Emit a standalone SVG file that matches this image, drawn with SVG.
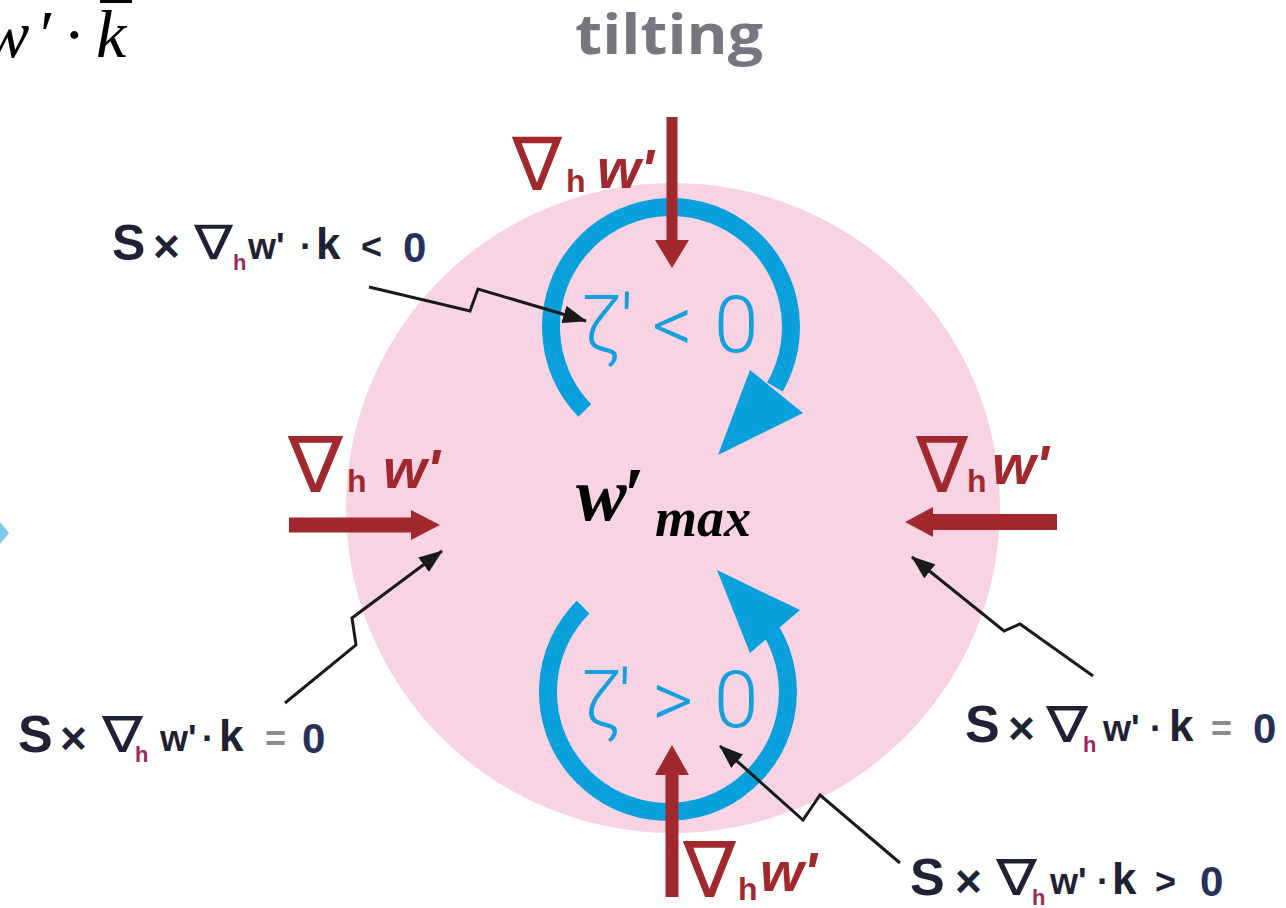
<svg xmlns="http://www.w3.org/2000/svg" width="1286" height="908" viewBox="0 0 1286 908">
<style>
.red{fill:#a1282c}
.redtxt{fill:#a1282c}
.nab{font-family:"DejaVu Sans",sans-serif;font-weight:normal}
.sb{font-family:"Liberation Sans",Arial,sans-serif;font-weight:bold}
.dk{fill:#1f2235}
.hs{fill:#9e2a5c}
.eq{fill:#8c8c8c}
.zr{fill:#27305a}
.blue{fill:#14a0dc;font-family:Roboto,"Liberation Sans",sans-serif;font-weight:300}
.ptr{fill:none;stroke:#1a1a1a;stroke-width:3;stroke-linejoin:miter;marker-end:url(#ah)}
.arc{fill:none;stroke:#0aa0dc;stroke-width:18}
</style>
<defs>
<marker id="ah" viewBox="0 0 24 18" markerWidth="24" markerHeight="18" refX="23" refY="9" orient="auto" markerUnits="userSpaceOnUse">
<path d="M0,0 L24,9 L0,18 z" fill="#1a1a1a"/>
</marker>
</defs>
<rect width="1286" height="908" fill="#ffffff"/>

<g id="formula-fragment" font-family="'Liberation Serif',serif" font-style="italic" font-size="68" fill="#000">
<text x="-16" y="57">w</text>
<text x="40" y="57" font-style="normal">′</text>
<text x="63" y="57" font-style="normal">·</text>
<text x="96" y="57">k</text>
<line x1="100" y1="1.5" x2="132" y2="1.5" stroke="#000" stroke-width="3"/>
</g>

<polygon id="edge-tip" points="0,522 9,533 0,544" fill="#7fcbee"/>

<g id="title">
<text x="575" y="54" font-family="'Open Sans','Liberation Sans',sans-serif" font-weight="bold" font-size="56" fill="#77757f" textLength="188" lengthAdjust="spacingAndGlyphs">tilting</text>
</g>

<g id="region">
<ellipse cx="673" cy="508" rx="327" ry="325" fill="#f8d3e4"/>
</g>

<g id="vortex-top">
<path class="arc" d="M584.7,410.4 A120,120 0 1 1 774.9,387"/>
<polygon points="750,370 803,413 718,455" fill="#0aa0dc"/>
<text class="blue" y="352" font-size="80"><tspan x="582">ζ</tspan><tspan x="620">′</tspan><tspan x="652">&lt;</tspan><tspan x="714">0</tspan></text>
</g>

<g id="vortex-bottom">
<path class="arc" d="M583.1,607.1 A120,120 0 1 0 771.9,632"/>
<polygon points="717,570 800,610 750,653" fill="#0aa0dc"/>
<text class="blue" y="727" font-size="80"><tspan x="582">ζ</tspan><tspan x="618">′</tspan><tspan x="652">&gt;</tspan><tspan x="714">0</tspan></text>
</g>

<g id="center-label" font-family="'Liberation Serif',serif" font-weight="bold" font-style="italic" fill="#000">
<text x="576" y="520" font-size="76">w</text>
<text x="624" y="520" font-size="76" font-style="normal">′</text>
<text x="655" y="536" font-size="54">max</text>
</g>

<g id="connectors">
<line x1="672" y1="117" x2="672" y2="244" stroke="#a1282c" stroke-width="11"/>
<polygon class="red" points="655,240 689,240 672,268"/>
<line x1="672" y1="897" x2="672" y2="770" stroke="#a1282c" stroke-width="13"/>
<polygon class="red" points="655,775 689,775 672,745"/>
<line x1="289" y1="525" x2="415" y2="525" stroke="#a1282c" stroke-width="15"/>
<polygon class="red" points="411,510 411,540 440,525"/>
<line x1="1057" y1="522" x2="928" y2="522" stroke="#a1282c" stroke-width="16"/>
<polygon class="red" points="933,507 933,537 905,522"/>
<path class="ptr" d="M369,287 L470,311 L478,289 L586,321"/>
<path class="ptr" d="M285,703 L356,645 L352,618 L442,551"/>
<path class="ptr" d="M1093,676 L1020,624 L1004,631 L912,557"/>
<path class="ptr" d="M900,863 L820,795 L803,820 L720,746"/>
</g>

<g id="grad-top" class="redtxt">
<text class="nab" x="512" y="190" font-size="74" textLength="50" lengthAdjust="spacingAndGlyphs">∇</text>
<text class="sb" x="566" y="192" font-size="32">h</text>
<text class="sb" x="597" y="188" font-size="56" font-style="italic">w'</text>
</g>
<g id="grad-left" class="redtxt">
<text class="nab" x="288" y="492" font-size="78" textLength="55" lengthAdjust="spacingAndGlyphs">∇</text>
<text class="sb" x="347" y="492" font-size="32">h</text>
<text class="sb" x="383" y="488" font-size="56" font-style="italic">w'</text>
</g>
<g id="grad-right" class="redtxt">
<text class="nab" x="916" y="492" font-size="78" textLength="52" lengthAdjust="spacingAndGlyphs">∇</text>
<text class="sb" x="967" y="492" font-size="32">h</text>
<text class="sb" x="992" y="484" font-size="56" font-style="italic">w'</text>
</g>
<g id="grad-bottom" class="redtxt">
<text class="nab" x="683" y="897" font-size="78" textLength="53" lengthAdjust="spacingAndGlyphs">∇</text>
<text class="sb" x="738" y="900" font-size="32">h</text>
<text class="sb" x="760" y="891" font-size="56" font-style="italic">w'</text>
</g>

<g id="label-tl" class="sb">
<text class="dk" x="112" y="260" font-size="50">S</text>
<text class="dk" x="153" y="262" font-size="46">×</text>
<text class="dk nab" x="194" y="259" font-size="48" textLength="39" lengthAdjust="spacingAndGlyphs">∇</text>
<text class="hs" x="233" y="270" font-size="22">h</text>
<text class="dk" x="248" y="259" font-size="36">w'</text>
<text class="dk" x="300" y="259" font-size="36">·</text>
<text class="dk" x="316" y="259" font-size="44">k</text>
<text class="dk" x="361" y="259" font-size="36">&lt;</text>
<text class="zr" x="403" y="262" font-size="42">0</text>
</g>

<g id="label-left" class="sb">
<text class="dk" x="18" y="752" font-size="52">S</text>
<text class="dk" x="60" y="754" font-size="46">×</text>
<text class="dk nab" x="102" y="752" font-size="50" textLength="41" lengthAdjust="spacingAndGlyphs">∇</text>
<text class="hs" x="135" y="762" font-size="22">h</text>
<text class="dk" x="160" y="751" font-size="36">w'</text>
<text class="dk" x="202" y="751" font-size="36">·</text>
<text class="dk" x="219" y="751" font-size="44">k</text>
<text class="eq" x="265" y="751" font-size="36">=</text>
<text class="zr" x="302" y="753" font-size="42">0</text>
</g>

<g id="label-right" class="sb">
<text class="dk" x="965" y="742" font-size="52">S</text>
<text class="dk" x="1008" y="744" font-size="46">×</text>
<text class="dk nab" x="1046" y="742" font-size="50" textLength="42" lengthAdjust="spacingAndGlyphs">∇</text>
<text class="hs" x="1083" y="752" font-size="22">h</text>
<text class="dk" x="1103" y="741" font-size="36">w'</text>
<text class="dk" x="1150" y="741" font-size="36">·</text>
<text class="dk" x="1169" y="741" font-size="44">k</text>
<text class="eq" x="1211" y="741" font-size="36">=</text>
<text class="zr" x="1253" y="743" font-size="42">0</text>
</g>

<g id="label-br" class="sb">
<text class="dk" x="910" y="895" font-size="52">S</text>
<text class="dk" x="955" y="897" font-size="46">×</text>
<text class="dk nab" x="996" y="895" font-size="50" textLength="41" lengthAdjust="spacingAndGlyphs">∇</text>
<text class="hs" x="1032" y="905" font-size="22">h</text>
<text class="dk" x="1050" y="894" font-size="36">w'</text>
<text class="dk" x="1097" y="894" font-size="36">·</text>
<text class="dk" x="1112" y="894" font-size="44">k</text>
<text class="dk" x="1155" y="894" font-size="36">&gt;</text>
<text class="zr" x="1200" y="896" font-size="42">0</text>
</g>
</svg>
